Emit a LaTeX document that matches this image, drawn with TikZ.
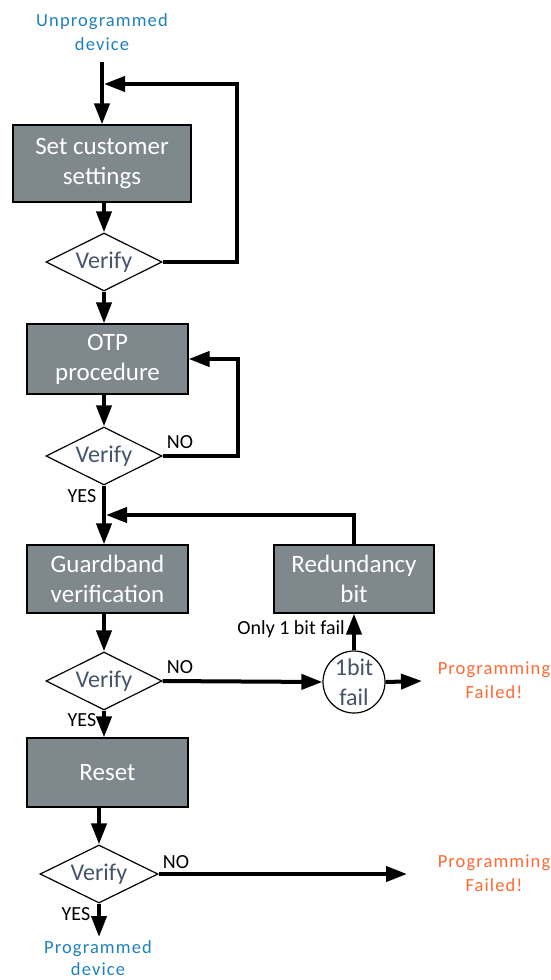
\documentclass[tikz,border=0pt]{standalone}
\usepackage{fontspec}
\setmainfont{Carlito}
\usetikzlibrary{shapes.geometric,arrows.meta,calc}
\definecolor{boxgray}{RGB}{127,136,141}
\definecolor{vtext}{RGB}{68,84,106}
\definecolor{devblue}{RGB}{31,128,192}
\definecolor{failorange}{RGB}{255,105,50}
\tikzset{
  procbox/.style={draw=black,line width=1.2pt,fill=boxgray,text=white,align=center,
    font=\fontsize{25}{30}\selectfont,inner sep=0pt},
  decide/.style={draw=black,line width=1.2pt,fill=white,diamond,aspect=2,inner sep=0pt,
    minimum width=116pt,minimum height=58pt,text=vtext,font=\fontsize{24}{28}\selectfont},
  arr/.style={line width=4pt,-{Triangle[length=21pt,width=15pt]}},
  lbl/.style={font=\fontsize{20}{22}\selectfont,text=black,inner sep=0pt},
  bluetxt/.style={text=devblue,align=center,font=\fontsize{18.5}{24}\selectfont\addfontfeatures{LetterSpace=6}},
  failtxt/.style={text=failorange,align=center,font=\fontsize{18.5}{24}\selectfont\addfontfeatures{LetterSpace=6}},
}
\begin{document}
\begin{tikzpicture}[x=1pt,y=-1pt]
\useasboundingbox (0,0) rectangle (551,980);
% texts
\node[bluetxt] (start) at (102,32) {Unprogrammed\\device};
\node[bluetxt,font=\fontsize{18.5}{22}\selectfont\addfontfeatures{LetterSpace=6}] (done) at (98,958) {Programmed\\device};
% boxes
\node[procbox,minimum width=178pt,minimum height=77pt] (b1) at (102,163.5) {Set customer\\settings};
\node[procbox,minimum width=161pt,minimum height=70pt] (b2) at (107.5,359) {OTP\\procedure};
\node[procbox,minimum width=161pt,minimum height=68pt] (b3) at (107.5,579) {Guardband\\verification};
\node[procbox,minimum width=160pt,minimum height=68pt] (rb) at (354,579) {Redundancy\\bit};
\node[procbox,minimum width=161pt,minimum height=69pt] (b4) at (107.5,772.5) {Reset};
% diamonds
\node[decide] (d1) at (104,262) {Verify};
\node[decide] (d2) at (104,456) {Verify};
\node[decide] (d3) at (104,681) {Verify};
\node[decide,minimum width=118pt] (d4) at (99,874) {Verify};
% circle
\node[draw=black,line width=1.2pt,fill=white,circle,minimum size=62pt,inner sep=0pt,
  text=vtext,align=center,font=\fontsize{24}{30}\selectfont] (c) at (354,682) {1bit\\fail};
% fail texts
\node[failtxt] (f1) at (494,680) {Programming\\Failed!};
\node[failtxt] (f2) at (494,873) {Programming\\Failed!};
% coordinates
\coordinate (s0) at (102,62);
\coordinate (j1) at (104,84);
\coordinate (j2) at (106,515);
\coordinate (e1) at (422,681);
\coordinate (e2) at (407,874);
\coordinate (endp) at (99,937);
% connectors
\draw[arr] (s0) -- (b1.north);
\draw[arr] (d1.east) -- ++(74,0) |- (j1);
\draw[arr] (d1.north |- b1.south) -- (d1.north);
\draw[arr] (d1.south) -- (d1.south |- b2.north);
\draw[arr] (d2.north |- b2.south) -- (d2.north);
\draw[arr] (d2.east) -- ++(75,0) |- (b2.east);
\draw[arr] (d2.south) -- (d2.south |- b3.north);
\draw[arr] (rb.north) |- (j2);
\draw[arr] (d3.north |- b3.south) -- (d3.north);
\draw[arr] (d3.east) -- (c.west);
\draw[arr] (c.north) -- (rb.south);
\draw[arr] (c.east) -- (e1);
\draw[arr] (d3.south) -- (d3.south |- b4.north);
\draw[arr] (d4.north |- b4.south) -- (d4.north);
\draw[arr] (d4.east) -- (e2);
\draw[arr] (d4.south) -- (endp);
% labels
\node[lbl] at (180,442) {NO};
\node[lbl] at (82,496) {YES};
\node[lbl] at (180,667) {NO};
\node[lbl] at (82,720) {YES};
\node[lbl] at (176,862) {NO};
\node[lbl] at (76,914) {YES};
\node[lbl,anchor=east] at (345,629) {Only 1 bit fail};
\end{tikzpicture}
\end{document}
